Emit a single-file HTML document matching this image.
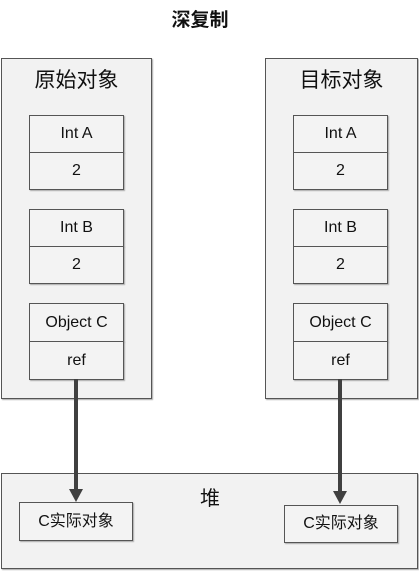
<!DOCTYPE html>
<html><head><meta charset="utf-8"><style>
body{margin:0;width:419px;height:571px;background:#fff;position:relative;overflow:hidden;font-family:"Liberation Sans","Noto Sans CJK SC",sans-serif;color:#111}
div{position:absolute;box-sizing:border-box}
.c{background:#f2f2f2;border:1px solid #555;box-shadow:1px 1px 1px #aaa}
.b{background:#f3f3f3;border:1px solid #555;text-align:center;font-size:16px;box-shadow:1px 1px 1px #aaa}
.t{text-align:center;font-size:21px}
</style></head><body>
<div style="left:0;top:5px;width:400px;text-align:center;font-size:19px;font-weight:bold">深复制</div>
<div class="c" style="left:1px;top:58px;width:151px;height:341px"></div>
<div class="t" style="left:1px;top:64px;width:151px">原始对象</div>
<div class="c" style="left:265px;top:58px;width:153px;height:341px"></div>
<div class="t" style="left:265px;top:64px;width:153px">目标对象</div>

<div class="b" style="left:29px;top:115px;width:95px;height:38px;line-height:36px">Int A</div>
<div class="b" style="left:29px;top:152px;width:95px;height:38px;line-height:36px">2</div>
<div class="b" style="left:29px;top:209px;width:95px;height:38px;line-height:36px">Int B</div>
<div class="b" style="left:29px;top:246px;width:95px;height:38px;line-height:36px">2</div>
<div class="b" style="left:29px;top:303px;width:95px;height:39px;line-height:37px">Object C</div>
<div class="b" style="left:29px;top:341px;width:95px;height:39px;line-height:37px">ref</div>

<div class="b" style="left:293px;top:115px;width:95px;height:38px;line-height:36px">Int A</div>
<div class="b" style="left:293px;top:152px;width:95px;height:38px;line-height:36px">2</div>
<div class="b" style="left:293px;top:209px;width:95px;height:38px;line-height:36px">Int B</div>
<div class="b" style="left:293px;top:246px;width:95px;height:38px;line-height:36px">2</div>
<div class="b" style="left:293px;top:303px;width:95px;height:39px;line-height:37px">Object C</div>
<div class="b" style="left:293px;top:341px;width:95px;height:39px;line-height:37px">ref</div>

<div class="c" style="left:1px;top:473px;width:417px;height:96px"></div>
<div class="t" style="left:190px;top:482px;width:40px;font-size:20px">堆</div>
<div class="b" style="left:19px;top:502px;width:114px;height:39px;line-height:37px;font-size:16px">C实际对象</div>
<div class="b" style="left:284px;top:505px;width:114px;height:38px;line-height:36px;font-size:16px">C实际对象</div>

<svg width="419" height="571" style="position:absolute;left:0;top:0">
<g fill="#404040" stroke="#404040">
<line x1="76" y1="379" x2="76" y2="492" stroke-width="4"/>
<polygon points="69,489 83,489 76,502" stroke="none"/>
<line x1="340" y1="379" x2="340" y2="494" stroke-width="4"/>
<polygon points="333,491 347,491 340,504" stroke="none"/>
</g></svg>
</body></html>
